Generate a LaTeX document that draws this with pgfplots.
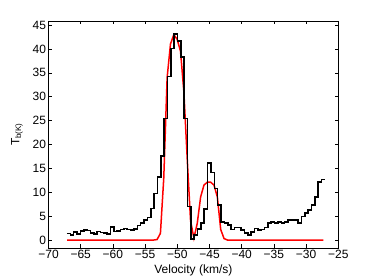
\documentclass[border=0pt]{standalone}
\usepackage{pgfplots}
\pgfplotsset{compat=1.18}
\usepackage{fontspec}
\setmainfont{Liberation Sans}
\begin{document}
\begin{tikzpicture}
\path[use as bounding box] (-48.5pt,-32pt) rectangle (325.5pt,248pt);
\begin{axis}[
  at={(0pt,0pt)}, anchor=south west,
  scale only axis, width=289.8pt, height=227pt,
  xmin=-70, xmax=-25, ymin=-1.67, ymax=45.84,
  xtick={-70,-65,-60,-55,-50,-45,-40,-35,-30,-25},
  xticklabels={−70,−65,−60,−55,−50,−45,−40,−35,−30,−25},
  ytick={0,5,10,15,20,25,30,35,40,45},
  tick align=inside, tick pos=both,
  major tick length=3.5pt,
  every tick/.style={black, line width=0.5pt},
  axis line style={line width=0.6pt},
  /pgf/number format/assume math mode=true,
  tick label style={font=\fontsize{12}{14}\selectfont},
  xticklabel style={yshift=1pt},
  yticklabel style={xshift=1pt},
  label style={font=\fontsize{12}{14}\selectfont},
  xlabel={Velocity (km/s)},
  xlabel style={yshift=1pt},
  ylabel={T\textsubscript{b(K)}},
  ylabel style={yshift=3pt},
  clip=true,
]
\addplot[red, line width=1.5pt] coordinates {
(-67.1,0) (-53.66,0) (-53.14,0.1) (-52.62,1.4) (-52.10,13) (-51.58,34) (-51.06,41)
(-50.54,43) (-50.02,42) (-49.50,39.5) (-48.98,31) (-48.46,17) (-47.94,4) (-47.42,0.4)
(-46.90,3.5) (-46.38,9.0) (-45.86,11.5) (-45.34,12.1) (-44.82,12.1) (-44.30,11.5)
(-43.78,9.0) (-43.26,2.2) (-42.74,0.3) (-42.22,0) (-27.3,0)
};
\addplot[black, line width=1.6pt, const plot] coordinates {
(-67.13,1.4) (-66.61,1.0) (-66.09,1.7) (-65.57,1.2) (-65.05,1.9) (-64.53,2.1)
(-64.01,2.0) (-63.49,1.5) (-62.97,1.2) (-62.45,1.8) (-61.93,1.6) (-61.41,1.5)
(-60.89,1.3) (-60.37,2.7) (-59.85,1.8) (-59.33,1.9) (-58.81,2.2) (-58.29,2.4)
(-57.77,2.2) (-57.25,2.1) (-56.73,2.3) (-56.21,3.0) (-55.69,3.5) (-55.17,4.2)
(-54.65,4.7) (-54.13,6.6) (-53.61,9.7) (-53.09,13.2) (-52.57,17.6) (-52.05,25.4)
(-51.53,34.2) (-51.01,40.1) (-50.49,43.1) (-49.97,41.7) (-49.45,38.3) (-48.93,25.4)
(-48.41,7.0) (-47.89,0.2) (-47.37,1.0) (-46.85,2.3) (-46.33,3.5) (-45.81,6.5)
(-45.29,16.1) (-44.77,14.1) (-44.25,10.8) (-43.73,7.3) (-43.21,3.8) (-42.69,3.5)
(-42.17,3.1) (-41.65,2.2) (-41.13,2.6) (-40.61,2.6) (-40.09,2.1) (-39.57,1.5)
(-39.05,1.0) (-38.53,1.7) (-38.01,2.4) (-37.49,2.1) (-36.97,2.2) (-36.45,2.6)
(-35.93,3.5) (-35.41,3.8) (-34.89,3.5) (-34.37,3.8) (-33.85,3.5) (-33.33,3.8)
(-32.81,4.2) (-32.29,4.2) (-31.77,4.2) (-31.25,3.6) (-30.73,4.9) (-30.21,5.6)
(-29.69,6.3) (-29.17,7.3) (-28.65,9.0) (-28.13,12.2) (-27.61,12.7) (-27.09,12.7)
};
\end{axis}
\end{tikzpicture}
\end{document}
